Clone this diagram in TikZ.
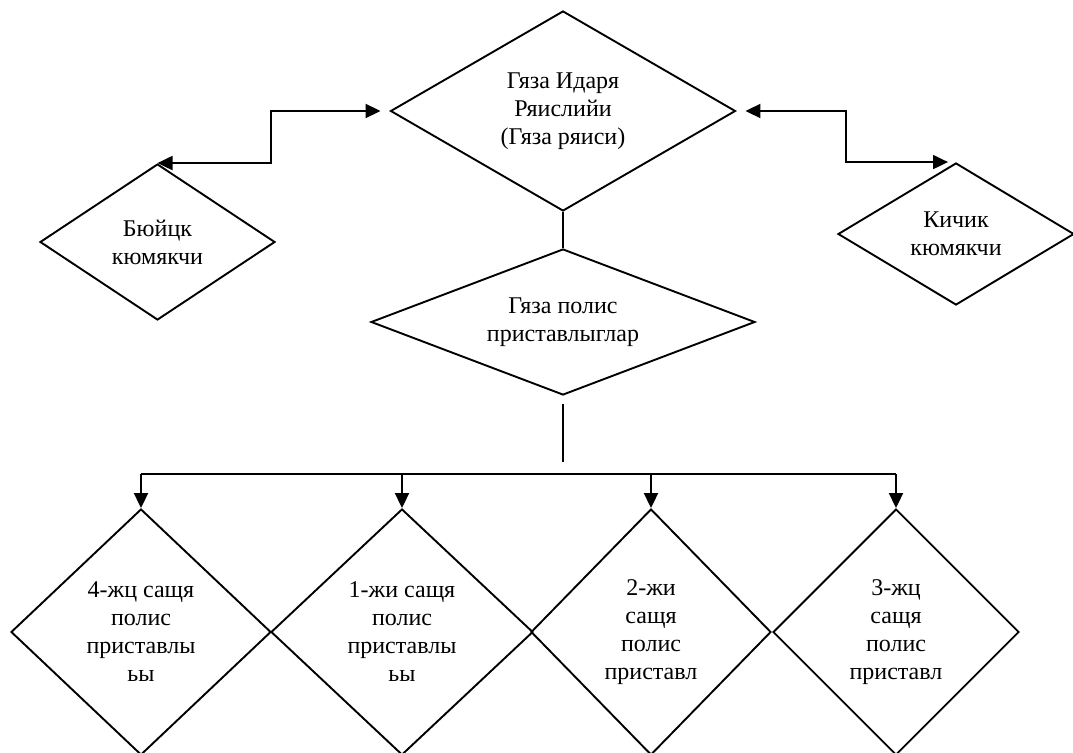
\documentclass[tikz,border=0pt]{standalone}
\usepackage{fontspec}
\setmainfont{Liberation Serif}
\usetikzlibrary{shapes.geometric,arrows.meta}
\tikzset{
  rhomb/.style={draw, shape=diamond, line width=1.9pt, inner sep=0pt, align=center,
    font=\fontsize{24}{28}\selectfont},
  link/.style={line width=2pt},
  tip/.style={link, -{Triangle[length=15pt,width=14pt]}},
  twotip/.style={link, {Triangle[length=15pt,width=14pt]}-{Triangle[length=15pt,width=14pt]}}
}
\begin{document}
\begin{tikzpicture}[x=1pt, y=-1pt]
\useasboundingbox (0,0) rectangle (1073,752);
\node[rhomb, aspect=1.72, minimum width=345pt, minimum height=200pt](gi) at (563, 111) {Гяза Идаря\\Ряислийи\\(Гяза ряиси)};
\node[rhomb, aspect=1.5, minimum width=235pt, minimum height=156pt](bk) at (157.5, 242) {Бюйцк\\кюмякчи};
\node[rhomb, aspect=1.66, minimum width=236pt, minimum height=142pt](kk) at (956, 234) {Кичик\\кюмякчи};
\node[rhomb, aspect=2.63, minimum width=384pt, minimum height=146pt](gp) at (563, 322) {Гяза полис\\приставлыглар};
\node[rhomb, aspect=1.06, minimum width=260pt, minimum height=246pt](d1) at (141, 632) {4-жц сащя\\полис\\приставлы\\ьы};
\node[rhomb, aspect=1.06, minimum width=262pt, minimum height=246pt](d2) at (402, 632) {1-жи сащя\\полис\\приставлы\\ьы};
\node[rhomb, aspect=0.98, minimum width=240pt, minimum height=246pt](d3) at (651, 632) {2-жи\\сащя\\полис\\приставл};
\node[rhomb, aspect=1, minimum width=246pt, minimum height=246pt](d4) at (896, 632) {3-жц\\сащя\\полис\\приставл};
\coordinate(lstep) at (271, 0);
\coordinate(rstep) at (846, 0);
\coordinate(hub) at (563, 462);
\coordinate(bus) at (563, 474);
\draw[twotip, shorten >=9pt] (bk.north) -| (lstep |- gi.west) -- (gi.west);
\draw[twotip, shorten <=9pt] (gi.east) -| (rstep |- kk.north) -- ([xshift=-8pt]kk.north);
\draw[link] (gi.south) -- (gp.north);
\draw[link] ([yshift=-8pt]gp.south) -- (hub);
\draw[link] (d1.north |- bus) -- (d4.north |- bus);
\foreach \n in {d1,d2,d3,d4}
  \draw[tip] (\n.north |- bus) -- (\n.north);
\end{tikzpicture}
\end{document}
